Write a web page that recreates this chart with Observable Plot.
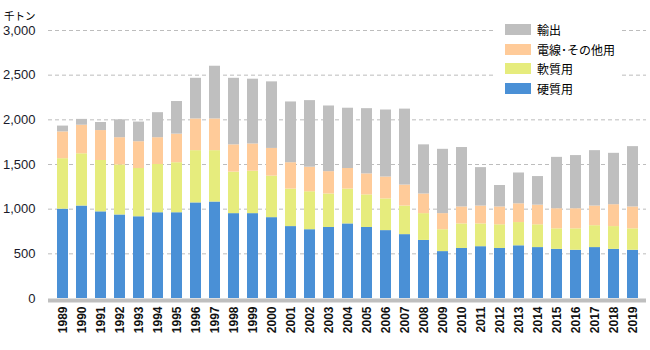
<!DOCTYPE html>
<html>
<head>
<meta charset="utf-8">
<script src="https://cdn.jsdelivr.net/npm/d3@7"></script>
<script src="https://cdn.jsdelivr.net/npm/@observablehq/plot@0.6"></script>
<style>
  html, body { margin: 0; padding: 0; background: #fff; }
  #wrap { position: relative; width: 650px; height: 350px; font-family: "Liberation Sans", "Noto Sans CJK JP", sans-serif; }
  #legend { position: absolute; left: 496px; top: 20px; width: 124px; background: #fff; padding: 0 0 4px 9px; box-sizing: border-box; }
  .row { display: flex; align-items: center; height: 19.5px; font-size: 12px; color: #000; font-family: "Noto Sans CJK JP", sans-serif; white-space: nowrap; }
  .sw { width: 26px; height: 11px; margin-right: 6px; flex: none; }
</style>
</head>
<body>
<div id="wrap"></div>
<script>
const years = ["1989","1990","1991","1992","1993","1994","1995","1996","1997","1998","1999","2000","2001","2002","2003","2004","2005","2006","2007","2008","2009","2010","2011","2012","2013","2014","2015","2016","2017","2018","2019"];
const seriesNames = ["硬質用", "軟質用", "電線･その他用", "輸出"];
const seriesColors = ["#4a90d6", "#e6ec7d", "#ffcb99", "#bfbfbf"];
const hard   = [1000,1035,970,935,915,960,960,1070,1080,950,950,905,805,770,795,835,795,760,715,650,525,560,580,560,590,570,550,540,570,550,540];
const soft   = [565,585,575,560,540,540,560,585,575,465,475,465,420,425,375,390,365,355,320,300,245,275,255,265,260,255,230,240,245,255,240];
const wire   = [300,320,335,305,300,300,320,355,355,305,305,310,295,275,250,230,235,245,235,220,180,190,200,200,210,220,225,225,220,245,245];
const exportV= [65,65,90,200,220,280,365,455,590,745,725,745,680,745,735,675,730,750,850,550,720,665,430,240,345,320,575,595,620,575,675];
const yTicks = [0,500,1000,1500,2000,2500,3000];
const unitLabel = "千トン";

const seriesValues = [hard, soft, wire, exportV];
const data = [];
seriesNames.forEach((s, si) => {
  years.forEach((y, i) => data.push({year: y, series: s, value: seriesValues[si][i]}));
});

const chart = Plot.plot({
  width: 650,
  height: 350,
  marginTop: 30,
  marginBottom: 52,
  marginLeft: 48,
  marginRight: 4,
  style: {fontFamily: '"Liberation Sans", "Noto Sans CJK JP", sans-serif', background: "#fff"},
  x: {domain: years, paddingInner: 0.43, paddingOuter: 0.215, label: null},
  y: {domain: [0, 3000], label: null},
  color: {domain: seriesNames, range: seriesColors},
  marks: [
    Plot.gridY(yTicks.filter(d => d > 0), {stroke: "#bdbdbd", strokeOpacity: 1, strokeDasharray: "4,3"}),
    Plot.barY(data, {x: "year", y: "value", fill: "series", order: seriesNames}),
    Plot.ruleY([0], {stroke: "#bfbfbf", strokeWidth: 4, dy: 2}),
    Plot.axisY(yTicks, {tickSize: 0, tickPadding: 13, tickFormat: d3.format(","), fontSize: 13, fill: "#1a1a2a", label: null}),
    Plot.axisX({tickSize: 0, tickPadding: 8, tickRotate: -90, fontSize: 12, fontWeight: "bold", fill: "#111", label: null}),
    Plot.text([unitLabel], {frameAnchor: "top-left", text: d => d, textAnchor: "end", dx: -13, dy: -18, fontSize: 10.5, fill: "#000", fontFamily: "Noto Sans CJK JP"})
  ]
});

const wrap = document.getElementById("wrap");
wrap.appendChild(chart);

const legend = document.createElement("div");
legend.id = "legend";
const legendOrder = [3, 2, 1, 0];
legendOrder.forEach(i => {
  const row = document.createElement("div");
  row.className = "row";
  const sw = document.createElement("span");
  sw.className = "sw";
  sw.style.background = seriesColors[i];
  const lab = document.createElement("span");
  lab.textContent = seriesNames[i];
  row.appendChild(sw);
  row.appendChild(lab);
  legend.appendChild(row);
});
wrap.appendChild(legend);
</script>
</body>
</html>
